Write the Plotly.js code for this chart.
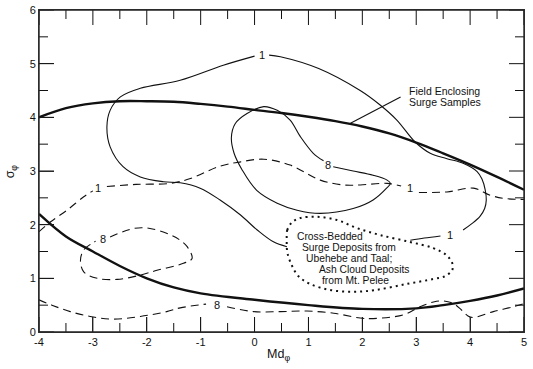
<!DOCTYPE html>
<html>
<head>
<meta charset="utf-8">
<script src="https://cdn.plot.ly/plotly-3.0.1.min.js"></script>
<style>html,body{margin:0;padding:0;background:#fff;}#chart{width:533px;height:369px;}</style>
</head>
<body>
<div id="chart"></div>
<script>
// ---- data (Mdφ, σφ) ----
var xTickVals = [-4, -3, -2, -1, 0, 1, 2, 3, 4, 5];
var xTickText = ['-4', '-3', '-2', '-1', '0', '1', '2', '3', '4', '5'];
var xMinorVals = [-3.5, -2.5, -1.5, -0.5, 0.5, 1.5, 2.5, 3.5, 4.5];
var yTickVals = [0, 1, 2, 3, 4, 5, 6];
var yTickText = ['0', '1', '2', '3', '4', '5', '6'];
var yMinorVals = [0.5, 1.5, 2.5, 3.5, 4.5, 5.5];

// Field enclosing surge samples: upper and lower boundaries
var fieldUpperX = [-4, -3.5, -3, -2.5, -2, -1.5, -1, -0.5, 0, 0.5, 1, 1.5, 2, 2.5, 3, 3.5, 4, 4.5, 5];
var fieldUpperY = [4.0, 4.17, 4.26, 4.3, 4.3, 4.29, 4.25, 4.2, 4.14, 4.08, 4.01, 3.93, 3.83, 3.7, 3.53, 3.33, 3.12, 2.89, 2.65];
var fieldLowerX = [-4, -3.5, -3, -2.5, -2, -1.5, -1, 0, 1, 2, 3, 3.5, 4, 4.5, 5];
var fieldLowerY = [2.2, 1.78, 1.5, 1.23, 1.0, 0.83, 0.72, 0.6, 0.5, 0.43, 0.44, 0.5, 0.58, 0.68, 0.81];

// Solid contour "1" (three visible pieces)
var solid1aX = [2.89, 3.15, 3.45];
var solid1aY = [1.71, 1.75, 1.79];
var solid1bX = [3.87, 4.02, 4.18, 4.27, 4.30, 4.28, 4.22, 4.13, 3.88, 3.57, 3.26, 2.98, 2.64, 2.33, 1.96, 1.19, 0.48, 0.27];
var solid1bY = [1.90, 2.01, 2.15, 2.30, 2.46, 2.65, 2.85, 2.99, 3.14, 3.23, 3.33, 3.54, 3.95, 4.23, 4.5, 4.91, 5.13, 5.16];
var solid1cX = [0.0, -0.58, -1.38, -2.12, -2.49, -2.68, -2.74, -2.68, -2.44, -2.12, -1.69, -1.38, -1.01, -0.64, -0.26, 0.05, 0.35, 0.6];
var solid1cY = [5.14, 4.97, 4.69, 4.54, 4.38, 4.13, 3.82, 3.45, 3.08, 2.89, 2.80, 2.78, 2.68, 2.46, 2.18, 1.90, 1.68, 1.59];

// Solid contour "8"
var solid8X = [1.46, 1.83, 2.2, 2.46, 2.52, 2.45, 2.2, 1.83, 1.22, 0.79, 0.42, 0.04, -0.23, -0.38, -0.43, -0.36, -0.14, 0.17, 0.42, 0.66, 0.85, 1.09, 1.28];
var solid8Y = [3.08, 3.0, 2.92, 2.83, 2.77, 2.68, 2.46, 2.30, 2.21, 2.27, 2.40, 2.64, 3.02, 3.33, 3.62, 3.88, 4.07, 4.2, 4.13, 3.95, 3.64, 3.33, 3.19];

// Dashed contour "1"
var dash1aX = [-4, -3.79, -3.48, -3.17, -3.0];
var dash1aY = [1.87, 2.05, 2.27, 2.52, 2.63];
var dash1bX = [-2.74, -2.2, -1.56, -1.19, -0.64, -0.26, 0.17, 0.66, 1.22, 1.65, 1.96, 2.46, 2.72];
var dash1bY = [2.71, 2.75, 2.77, 2.86, 3.09, 3.17, 3.22, 3.11, 2.83, 2.74, 2.74, 2.77, 2.72];
var dash1cX = [3.05, 3.57, 4.06, 4.37, 4.62, 5.0];
var dash1cY = [2.6, 2.61, 2.68, 2.55, 2.49, 2.47];

// Dashed contour "8" (left loop)
var dash8loopX = [-2.68, -2.24, -1.94, -1.56, -1.38, -1.25, -1.16, -1.32, -1.81, -2.12, -2.55, -2.92, -3.17, -3.23, -3.17, -3.02, -2.95];
var dash8loopY = [1.77, 1.93, 1.93, 1.81, 1.71, 1.59, 1.37, 1.28, 1.15, 1.06, 0.98, 1.0, 1.12, 1.34, 1.53, 1.65, 1.69];

// Dashed contour "8" (bottom)
var dash8aX = [-4, -3.76, -3.42, -3.05, -2.62, -2.12, -1.63, -1.38, -0.9];
var dash8aY = [0.6, 0.5, 0.38, 0.29, 0.24, 0.29, 0.38, 0.45, 0.52];
var dash8bX = [-0.51, -0.02, 0.48, 0.97, 1.47, 1.96, 2.2, 2.76, 3.07, 3.32, 3.5, 3.69, 3.84, 3.96, 4.06, 4.43, 4.8, 5.0];
var dash8bY = [0.47, 0.38, 0.38, 0.39, 0.35, 0.26, 0.25, 0.32, 0.47, 0.56, 0.58, 0.53, 0.41, 0.3, 0.27, 0.38, 0.47, 0.53];

// Dotted region: cross-bedded surge / ash cloud deposits
var dotX = [0.597, 0.607, 0.699, 0.848, 1.158, 1.529, 1.90, 2.332, 2.889, 3.316, 3.557, 3.668, 3.668, 3.538, 3.316, 2.815, 2.24, 1.831, 1.404, 1.033, 0.811, 0.681, 0.607, 0.597];
var dotY = [1.713, 1.899, 2.048, 2.123, 2.147, 2.086, 1.937, 1.806, 1.676, 1.564, 1.434, 1.285, 1.155, 1.043, 0.987, 0.894, 0.782, 0.750, 0.782, 0.894, 1.043, 1.266, 1.490, 1.713];

// Leader line for the field label
var leaderX = [1.78, 2.71];
var leaderY = [3.89, 4.38];

// Contour labels
var contourLabelText = ['1', '1', '8', '1', '1', '8', '8'];
var contourLabelX = [0.14, 3.63, 1.37, -2.9, 2.89, -2.81, -0.7];
var contourLabelY = [5.16, 1.81, 3.11, 2.68, 2.68, 1.73, 0.51];

// Text labels
var fieldText = ['Field Enclosing', 'Surge Samples'];
var fieldTextX = [2.82, 2.82];
var fieldTextY = [4.49, 4.28];
var depositText = ['Cross-Bedded', 'Surge Deposits from', 'Ubehebe and Taal;', 'Ash Cloud Deposits', 'from Mt. Pelee'];
var depositTextX = [0.755, 0.835, 0.909, 1.158, 1.219];
var depositTextY = [1.775, 1.570, 1.372, 1.173, 0.968];
var xTitle = 'Md<sub>φ</sub>';
var yTitle = 'σ<sub>φ</sub>';

// ---- styles ----
var INK = '#111';
var FONT = 'Liberation Sans, Arial, Helvetica, sans-serif';
var PLOT_W = 485, PLOT_H = 322;          // plot area size in px (533-39-9, 369-10-37)
var MAJOR_LEN = 15, MINOR_LEN = 9;       // tick lengths in px

function tr(x, y, w, dash, shape) {
  return {x: x, y: y, type: 'scatter', mode: 'lines', hoverinfo: 'skip', showlegend: false,
          line: {color: INK, width: w, dash: dash || 'solid', shape: shape || 'spline', smoothing: 1}};
}
var DASH = '8px,5px';
var traces = [
  tr(fieldUpperX, fieldUpperY, 2.4),
  tr(fieldLowerX, fieldLowerY, 2.4),
  tr(solid1aX, solid1aY, 1.1),
  tr(solid1bX, solid1bY, 1.1),
  tr(solid1cX, solid1cY, 1.1),
  tr(solid8X, solid8Y, 1.1),
  tr(dash1aX, dash1aY, 1.1, DASH),
  tr(dash1bX, dash1bY, 1.1, DASH),
  tr(dash1cX, dash1cY, 1.1, DASH),
  tr(dash8loopX, dash8loopY, 1.1, DASH),
  tr(dash8aX, dash8aY, 1.1, DASH),
  tr(dash8bX, dash8bY, 1.1, DASH),
  tr(dotX, dotY, 2, '2px,4px'),
  tr(leaderX, leaderY, 1.1, 'solid', 'linear')
];

var annotations = [];
for (var i = 0; i < contourLabelText.length; i++) {
  annotations.push({x: contourLabelX[i], y: contourLabelY[i], xref: 'x', yref: 'y', text: contourLabelText[i],
    showarrow: false, xanchor: 'center', yanchor: 'middle', font: {family: FONT, size: 11, color: INK}});
}
for (var j = 0; j < fieldText.length; j++) {
  annotations.push({x: fieldTextX[j], y: fieldTextY[j], xref: 'x', yref: 'y', text: fieldText[j],
    showarrow: false, xanchor: 'left', yanchor: 'middle', font: {family: FONT, size: 10.5, color: INK}});
}
for (var k = 0; k < depositText.length; k++) {
  annotations.push({x: depositTextX[k], y: depositTextY[k], xref: 'x', yref: 'y', text: depositText[k],
    showarrow: false, xanchor: 'left', yanchor: 'middle', font: {family: FONT, size: 10.3, color: INK}});
}
annotations.push({x: 0.493, y: -0.072, xref: 'paper', yref: 'paper', text: xTitle, showarrow: false,
  xanchor: 'center', yanchor: 'middle', font: {family: FONT, size: 12.5, color: INK}});
annotations.push({x: -0.057, y: 0.5, xref: 'paper', yref: 'paper', text: yTitle, showarrow: false, textangle: -90,
  xanchor: 'center', yanchor: 'middle', font: {family: FONT, size: 12.5, color: INK}});

// inward tick marks on all four sides, placed through the axes' own scales
var shapes = [];
function xTicks(vals, len) {
  var f = len / PLOT_H;
  vals.forEach(function (v) {
    shapes.push({type: 'line', xref: 'x', yref: 'paper', x0: v, x1: v, y0: 0, y1: f, layer: 'above', line: {color: INK, width: 1}});
    shapes.push({type: 'line', xref: 'x', yref: 'paper', x0: v, x1: v, y0: 1, y1: 1 - f, layer: 'above', line: {color: INK, width: 1}});
  });
}
function yTicks(vals, len) {
  var f = len / PLOT_W;
  vals.forEach(function (v) {
    shapes.push({type: 'line', xref: 'paper', yref: 'y', x0: 0, x1: f, y0: v, y1: v, layer: 'above', line: {color: INK, width: 1}});
    shapes.push({type: 'line', xref: 'paper', yref: 'y', x0: 1, x1: 1 - f, y0: v, y1: v, layer: 'above', line: {color: INK, width: 1}});
  });
}
xTicks(xTickVals, MAJOR_LEN);
xTicks(xMinorVals, MINOR_LEN);
yTicks(yTickVals, MAJOR_LEN);
yTicks(yMinorVals, MINOR_LEN);
// frame
shapes.push({type: 'rect', xref: 'paper', yref: 'paper', x0: 0, x1: 1, y0: 0, y1: 1, layer: 'above',
  line: {color: '#222', width: 1.4}, fillcolor: 'rgba(0,0,0,0)'});

var layout = {
  width: 533, height: 369,
  margin: {l: 39, r: 9, t: 10, b: 37},
  font: {family: FONT, size: 11, color: INK},
  showlegend: false,
  xaxis: {range: [-4, 5], tickmode: 'array', tickvals: xTickVals, ticktext: xTickText,
    ticks: 'inside', ticklen: MAJOR_LEN, showline: true, mirror: true, showgrid: false, zeroline: false},
  yaxis: {range: [0, 6], tickmode: 'array', tickvals: yTickVals, ticktext: yTickText,
    ticks: 'inside', ticklen: MAJOR_LEN, showline: true, mirror: true, showgrid: false, zeroline: false},
  shapes: shapes,
  annotations: annotations
};

Plotly.newPlot('chart', traces, layout, {displayModeBar: false});
</script>
</body>
</html>
